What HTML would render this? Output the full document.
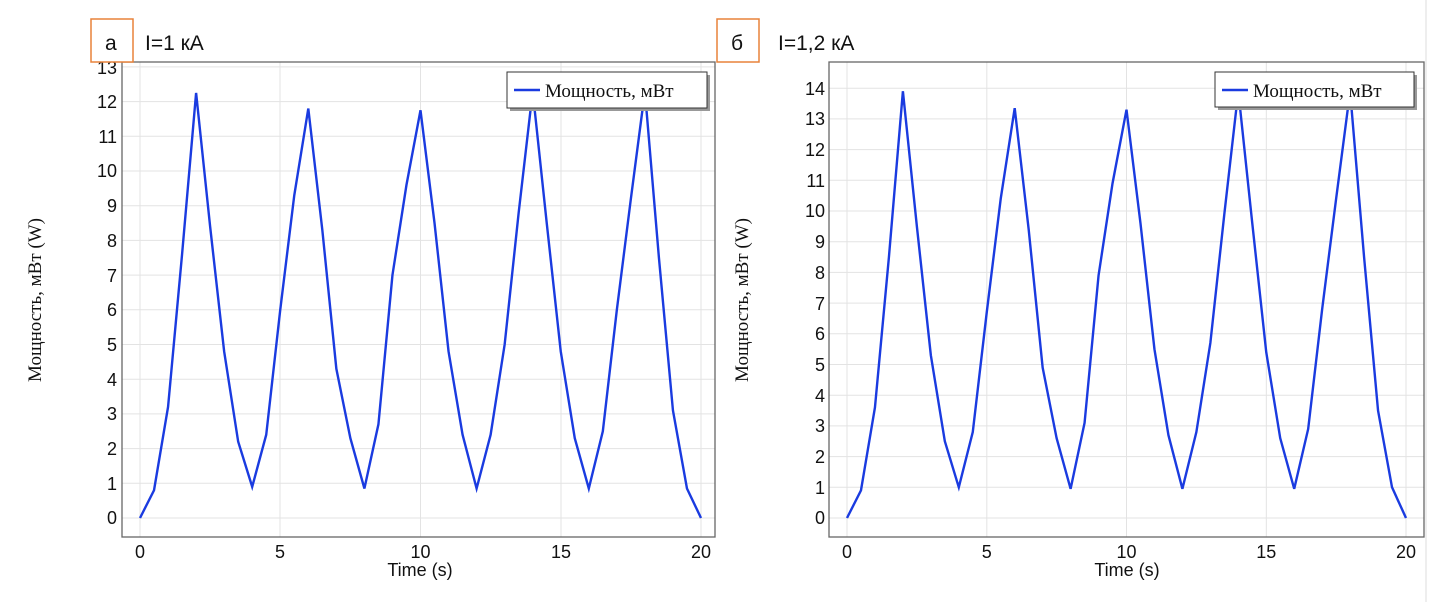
<!DOCTYPE html>
<html><head><meta charset="utf-8"><style>
html,body{margin:0;padding:0;background:#fff;width:1430px;height:602px;overflow:hidden}
svg{display:block}
.t{font-family:"Liberation Sans","DejaVu Sans",sans-serif;font-size:18px;fill:#111}
.s{font-family:"Liberation Serif","DejaVu Serif",serif;font-size:19px;fill:#111}
.g{stroke:#e3e3e3;stroke-width:1}
</style></head><body>
<svg width="1430" height="602" viewBox="0 0 1430 602">
<line x1="1426" y1="0" x2="1426" y2="602" stroke="#ddd"/>
<!-- LEFT -->
<g>
<g class="g">
<line x1="140" y1="62" x2="140" y2="537"/><line x1="280" y1="62" x2="280" y2="537"/><line x1="420.5" y1="62" x2="420.5" y2="537"/><line x1="561" y1="62" x2="561" y2="537"/><line x1="701" y1="62" x2="701" y2="537"/>
<line x1="122" y1="518" x2="715" y2="518"/><line x1="122" y1="483.3" x2="715" y2="483.3"/><line x1="122" y1="448.6" x2="715" y2="448.6"/><line x1="122" y1="413.9" x2="715" y2="413.9"/><line x1="122" y1="379.2" x2="715" y2="379.2"/><line x1="122" y1="344.5" x2="715" y2="344.5"/><line x1="122" y1="309.8" x2="715" y2="309.8"/><line x1="122" y1="275.1" x2="715" y2="275.1"/><line x1="122" y1="240.4" x2="715" y2="240.4"/><line x1="122" y1="205.7" x2="715" y2="205.7"/><line x1="122" y1="171" x2="715" y2="171"/><line x1="122" y1="136.3" x2="715" y2="136.3"/><line x1="122" y1="101.6" x2="715" y2="101.6"/><line x1="122" y1="66.9" x2="715" y2="66.9"/>
</g>
<rect x="122" y="62" width="593" height="475" fill="none" stroke="#666" stroke-width="1.3"/>
<polyline transform="translate(140,518) scale(28.05,-34.7)" vector-effect="non-scaling-stroke" fill="none" stroke="#1a3be0" stroke-width="2.4" points="0,0 0.5,0.8 1,3.2 1.5,7.6 2,12.25 2.5,8.4 3,4.8 3.5,2.2 4,0.9 4.5,2.4 5,6 5.5,9.3 6,11.8 6.5,8.3 7,4.3 7.5,2.3 8,0.85 8.5,2.7 9,7 9.5,9.6 10,11.75 10.5,8.5 11,4.8 11.5,2.4 12,0.85 12.5,2.4 13,5 13.5,8.8 14,12.3 14.5,8.5 15,4.8 15.5,2.3 16,0.85 16.5,2.5 17,6 17.5,9.2 18,12.3 18.5,7.5 19,3.1 19.5,0.85 20,0"/>
<g class="t" text-anchor="end">
<text x="117" y="524">0</text><text x="117" y="490">1</text><text x="117" y="455">2</text><text x="117" y="420">3</text><text x="117" y="386">4</text><text x="117" y="351">5</text><text x="117" y="316">6</text><text x="117" y="282">7</text><text x="117" y="247">8</text><text x="117" y="212">9</text><text x="117" y="177">10</text><text x="117" y="143">11</text><text x="117" y="108">12</text><text x="117" y="74">13</text>
</g>
<g class="t" text-anchor="middle">
<text x="140" y="558">0</text><text x="280" y="558">5</text><text x="420.5" y="558">10</text><text x="561" y="558">15</text><text x="701" y="558">20</text>
<text x="420" y="576">Time (s)</text>
</g>
<text class="s" transform="translate(41,300) rotate(-90)" text-anchor="middle">Мощность, мВт (W)</text>
<rect x="510" y="75" width="200" height="36" fill="#999"/>
<rect x="507" y="72" width="200" height="36" fill="#fff" stroke="#333"/>
<line x1="514" y1="90" x2="540" y2="90" stroke="#1a3be0" stroke-width="2.4"/>
<text class="s" x="545" y="97">Мощность, мВт</text>
<rect x="91" y="19" width="42" height="43" fill="#fff" stroke="#e8823a" stroke-width="1.5"/>
<text class="t" x="105" y="50" style="font-size:21px">a</text>
<text class="t" x="145" y="50" style="font-size:21px">I=1 кА</text>
</g>
<!-- RIGHT -->
<g>
<g class="g">
<line x1="847" y1="62" x2="847" y2="537"/><line x1="986.8" y1="62" x2="986.8" y2="537"/><line x1="1126.5" y1="62" x2="1126.5" y2="537"/><line x1="1266.3" y1="62" x2="1266.3" y2="537"/><line x1="1406" y1="62" x2="1406" y2="537"/>
<line x1="829" y1="518" x2="1424" y2="518"/><line x1="829" y1="487.3" x2="1424" y2="487.3"/><line x1="829" y1="456.6" x2="1424" y2="456.6"/><line x1="829" y1="425.9" x2="1424" y2="425.9"/><line x1="829" y1="395.2" x2="1424" y2="395.2"/><line x1="829" y1="364.5" x2="1424" y2="364.5"/><line x1="829" y1="333.8" x2="1424" y2="333.8"/><line x1="829" y1="303.1" x2="1424" y2="303.1"/><line x1="829" y1="272.4" x2="1424" y2="272.4"/><line x1="829" y1="241.7" x2="1424" y2="241.7"/><line x1="829" y1="211" x2="1424" y2="211"/><line x1="829" y1="180.3" x2="1424" y2="180.3"/><line x1="829" y1="149.6" x2="1424" y2="149.6"/><line x1="829" y1="118.9" x2="1424" y2="118.9"/><line x1="829" y1="88.2" x2="1424" y2="88.2"/>
</g>
<rect x="829" y="62" width="595" height="475" fill="none" stroke="#666" stroke-width="1.3"/>
<polyline transform="translate(847,518) scale(27.95,-30.7)" vector-effect="non-scaling-stroke" fill="none" stroke="#1a3be0" stroke-width="2.4" points="0,0 0.5,0.9 1,3.6 1.5,8.5 2,13.9 2.5,9.5 3,5.3 3.5,2.5 4,1.0 4.5,2.8 5,6.7 5.5,10.4 6,13.35 6.5,9.4 7,4.9 7.5,2.6 8,0.95 8.5,3.1 9,7.9 9.5,10.9 10,13.3 10.5,9.6 11,5.5 11.5,2.7 12,0.95 12.5,2.8 13,5.7 13.5,9.9 14,13.9 14.5,9.6 15,5.4 15.5,2.6 16,0.95 16.5,2.9 17,6.8 17.5,10.4 18,13.9 18.5,8.5 19,3.5 19.5,1.0 20,0"/>
<g class="t" text-anchor="end">
<text x="825" y="524">0</text><text x="825" y="494">1</text><text x="825" y="463">2</text><text x="825" y="432">3</text><text x="825" y="402">4</text><text x="825" y="371">5</text><text x="825" y="340">6</text><text x="825" y="310">7</text><text x="825" y="279">8</text><text x="825" y="248">9</text><text x="825" y="217">10</text><text x="825" y="187">11</text><text x="825" y="156">12</text><text x="825" y="125">13</text><text x="825" y="95">14</text>
</g>
<g class="t" text-anchor="middle">
<text x="847" y="558">0</text><text x="986.8" y="558">5</text><text x="1126.5" y="558">10</text><text x="1266.3" y="558">15</text><text x="1406" y="558">20</text>
<text x="1127" y="576">Time (s)</text>
</g>
<text class="s" transform="translate(748,300) rotate(-90)" text-anchor="middle">Мощность, мВт (W)</text>
<rect x="1218" y="75" width="199" height="35" fill="#999"/>
<rect x="1215" y="72" width="199" height="35" fill="#fff" stroke="#333"/>
<line x1="1222" y1="90" x2="1248" y2="90" stroke="#1a3be0" stroke-width="2.4"/>
<text class="s" x="1253" y="97">Мощность, мВт</text>
<rect x="717" y="19" width="42" height="43" fill="#fff" stroke="#e8823a" stroke-width="1.5"/>
<text class="t" x="731" y="50" style="font-size:21px">б</text>
<text class="t" x="778" y="50" style="font-size:21px">I=1,2 кА</text>
</g>
</svg>
</body></html>
